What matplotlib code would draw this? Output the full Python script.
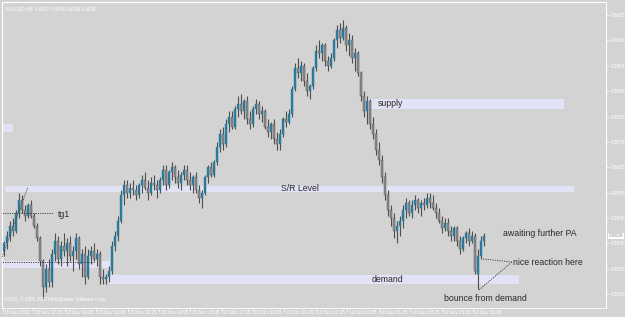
import matplotlib
matplotlib.use("Agg")
import matplotlib.pyplot as plt
from matplotlib.patches import Rectangle
import numpy as np

# ---- data (prices in 1/10000 units, AUDUSD M5) ----
opens = [9832, 9835, 9838, 9842, 9840, 9847, 9852, 9848, 9846, 9850,
         9846, 9842, 9837, 9828, 9818, 9825, 9820, 9831, 9836, 9829,
         9834, 9832, 9835, 9830, 9832, 9837, 9827, 9831, 9822, 9830,
         9832, 9829, 9831, 9822, 9821, 9822, 9824, 9834, 9838, 9844,
         9854, 9858, 9855, 9857, 9856, 9854, 9858, 9860, 9857, 9855,
         9859, 9858, 9856, 9860, 9864, 9858, 9863, 9865, 9861, 9859,
         9862, 9864, 9860, 9858, 9861, 9856, 9853, 9855, 9861, 9865,
         9862, 9867, 9873, 9878, 9874, 9882, 9885, 9881, 9888, 9890,
         9887, 9891, 9884, 9882, 9888, 9890, 9886, 9887, 9881, 9879,
         9882, 9876, 9874, 9878, 9884, 9883, 9886, 9896, 9904, 9902,
         9905, 9899, 9895, 9897, 9904, 9911, 9910, 9913, 9907, 9905,
         9908, 9915, 9919, 9916, 9920, 9913, 9915, 9908, 9910, 9902,
         9893, 9887, 9891, 9882, 9878, 9872, 9868, 9861, 9854, 9848,
         9845, 9840, 9842, 9844, 9848, 9851, 9847, 9850, 9852, 9849,
         9851, 9850, 9853, 9851, 9849, 9847, 9844, 9841, 9843, 9840,
         9838, 9841, 9836, 9833, 9837, 9839, 9836, 9838, 9823, 9830,
         9836]
highs = [9836, 9840, 9844, 9845, 9848, 9855, 9854, 9850, 9851, 9852,
         9847, 9843, 9838, 9829, 9827, 9829, 9833, 9839, 9838, 9836,
         9839, 9837, 9838, 9834, 9839, 9838, 9833, 9834, 9833, 9834,
         9835, 9833, 9832, 9825, 9823, 9826, 9836, 9840, 9846, 9856,
         9860, 9860, 9859, 9860, 9858, 9859, 9862, 9863, 9860, 9861,
         9862, 9860, 9861, 9866, 9866, 9864, 9867, 9866, 9864, 9863,
         9866, 9866, 9863, 9862, 9863, 9858, 9856, 9862, 9866, 9867,
         9868, 9875, 9880, 9881, 9884, 9887, 9887, 9889, 9893, 9894,
         9892, 9893, 9887, 9889, 9892, 9891, 9889, 9888, 9884, 9883,
         9884, 9879, 9880, 9885, 9887, 9888, 9897, 9906, 9908, 9907,
         9906, 9902, 9898, 9905, 9913, 9915, 9914, 9914, 9909, 9910,
         9916, 9921, 9922, 9923, 9921, 9918, 9917, 9912, 9911, 9903,
         9895, 9893, 9892, 9885, 9880, 9875, 9870, 9863, 9856, 9850,
         9847, 9844, 9846, 9850, 9853, 9852, 9852, 9854, 9853, 9852,
         9853, 9855, 9855, 9854, 9851, 9849, 9846, 9845, 9845, 9842,
         9842, 9842, 9838, 9838, 9840, 9841, 9840, 9839, 9833, 9838,
         9839]
lows = [9830, 9833, 9836, 9838, 9839, 9845, 9847, 9844, 9845, 9845,
        9841, 9836, 9826, 9813, 9816, 9818, 9818, 9828, 9827, 9826,
        9830, 9826, 9828, 9824, 9829, 9825, 9822, 9819, 9821, 9827,
        9828, 9826, 9819, 9819, 9819, 9820, 9823, 9832, 9836, 9843,
        9850, 9853, 9853, 9854, 9852, 9853, 9855, 9856, 9852, 9854,
        9856, 9853, 9855, 9858, 9856, 9857, 9860, 9859, 9857, 9856,
        9860, 9858, 9856, 9855, 9855, 9851, 9849, 9854, 9859, 9861,
        9861, 9866, 9871, 9872, 9873, 9879, 9880, 9880, 9885, 9886,
        9884, 9882, 9880, 9881, 9886, 9884, 9883, 9880, 9877, 9876,
        9874, 9872, 9872, 9877, 9881, 9882, 9885, 9895, 9900, 9899,
        9897, 9893, 9892, 9896, 9903, 9908, 9907, 9905, 9903, 9904,
        9907, 9912, 9914, 9915, 9911, 9909, 9906, 9903, 9901, 9891,
        9885, 9882, 9880, 9876, 9870, 9866, 9859, 9852, 9846, 9842,
        9837, 9835, 9838, 9841, 9845, 9846, 9845, 9848, 9847, 9846,
        9848, 9849, 9849, 9848, 9845, 9843, 9839, 9840, 9838, 9836,
        9836, 9834, 9831, 9832, 9835, 9834, 9835, 9823, 9817, 9829,
        9834]
closes = [9835, 9838, 9842, 9840, 9847, 9852, 9848, 9846, 9850, 9846,
          9842, 9837, 9828, 9818, 9825, 9820, 9831, 9836, 9829, 9834,
          9832, 9835, 9830, 9832, 9837, 9827, 9831, 9822, 9830, 9832,
          9829, 9831, 9822, 9821, 9822, 9824, 9834, 9838, 9844, 9854,
          9858, 9855, 9857, 9856, 9854, 9858, 9860, 9857, 9855, 9859,
          9858, 9856, 9860, 9864, 9858, 9863, 9865, 9861, 9859, 9862,
          9864, 9860, 9858, 9861, 9856, 9853, 9855, 9861, 9865, 9862,
          9867, 9873, 9878, 9874, 9882, 9885, 9881, 9888, 9890, 9887,
          9891, 9884, 9882, 9888, 9890, 9886, 9887, 9881, 9879, 9882,
          9876, 9874, 9878, 9884, 9883, 9886, 9896, 9904, 9902, 9905,
          9899, 9895, 9897, 9904, 9911, 9910, 9913, 9907, 9905, 9908,
          9915, 9919, 9916, 9920, 9913, 9915, 9908, 9910, 9902, 9893,
          9887, 9891, 9882, 9878, 9872, 9868, 9861, 9854, 9848, 9845,
          9840, 9842, 9844, 9848, 9851, 9847, 9850, 9852, 9849, 9851,
          9850, 9853, 9851, 9849, 9847, 9844, 9841, 9843, 9840, 9838,
          9841, 9836, 9833, 9837, 9839, 9836, 9838, 9824, 9830, 9836,
          9838]

price_ticks = [0.9925, 0.9915, 0.9905, 0.9895, 0.9885, 0.9875,
               0.9865, 0.9855, 0.9845, 0.9835, 0.9825, 0.9815]
time_labels = ["15 Nov 2010", "15 Nov 07:25", "15 Nov 09:05", "15 Nov 10:45",
               "15 Nov 12:25", "15 Nov 14:05", "15 Nov 15:45", "15 Nov 17:25",
               "15 Nov 19:05", "15 Nov 20:45", "15 Nov 22:25", "16 Nov 00:05",
               "16 Nov 01:45", "16 Nov 03:25", "16 Nov 05:05", "16 Nov 06:45"]
time_label_pos = [-0.5, 9.8, 20.2, 30.7, 41.2, 51.7, 62.1, 72.6,
                  83.0, 93.5, 104.0, 114.5, 125.0, 135.4, 145.9, 156.3]

PIP = 1e-4
o = np.array(opens) * PIP
h = np.array(highs) * PIP
l = np.array(lows) * PIP
c = np.array(closes) * PIP
x = np.arange(len(o))

BG = "#D3D3D3"
BULL = "#2A7A9E"
BEAR = "#8E8E8E"
WICK = "#4E4E4E"
ZONE = "#E3E3F8"
TXT = "#2A2A2A"
SMALL = dict(family="Liberation Sans", fontsize=3.3, color="white")

fig = plt.figure(figsize=(6.25, 3.17), dpi=100, facecolor=BG)
ax = fig.add_axes([2 / 625, 9 / 317, 604 / 625, 306 / 317], facecolor=BG)
ax.set_xlim(-0.667, 200.67)
ax.set_ylim(0.98096, 0.99301)

# zones
zones = [(121.3, 186.7, 0.9888, 0.9892),
         (0.33, 190.0, 0.98553, 0.98577),
         (34.7, 171.7, 0.98191, 0.98226),
         (-1.33, 3.0, 0.9879, 0.9882),
         (-1.33, 35.3, 0.98255, 0.9828)]
for x0, x1, y0, y1 in zones:
    ax.add_patch(Rectangle((x0, y0), x1 - x0, y1 - y0, facecolor=ZONE,
                           edgecolor="none", zorder=1))

# candles
ax.vlines(x, l, h, color=WICK, lw=0.8, zorder=2)
up = c >= o
body_lo = np.minimum(o, c)
body_h = np.maximum(np.abs(c - o), 0.4 * PIP)
ax.bar(x[up], body_h[up], bottom=body_lo[up], width=0.62, color=BULL,
       edgecolor=BULL, lw=0.3, zorder=3)
ax.bar(x[~up], body_h[~up], bottom=body_lo[~up], width=0.62, color=BEAR,
       edgecolor=WICK, lw=0.3, zorder=3)

# dotted lines
ls = dict(color="#404040", lw=0.7, ls=(0, (1.2, 1.2)), zorder=4)
ax.plot([-1.33, 16.3], [0.98472, 0.98472], **ls)
ax.plot([-1.33, 30.3], [0.98278, 0.98278], **ls)
ax.plot([-0.67, 8.0], [0.98297, 0.98573], **ls)
ax.plot([159.7, 169.3], [0.98289, 0.98277], **ls)
ax.plot([158.3, 169.3], [0.98167, 0.98277], **ls)

# annotations
tf = dict(family="Liberation Sans", fontsize=6.3, color=TXT, zorder=5)
ax.text(18.0, 0.98465, "tg1", va="center", ha="left", **tf)
ax.text(124.7, 0.9890, "supply", va="center", ha="left", **tf)
ax.text(98.7, 0.98565, "S/R Level", va="center", ha="center", **tf)
ax.text(122.7, 0.98209, "demand", va="center", ha="left", **tf)
ax.text(166.3, 0.9839, "awaiting further PA", va="center", ha="left", **tf)
ax.text(169.6, 0.98277, "nice reaction here", va="center", ha="left", **tf)
ax.text(146.7, 0.98132, "bounce from demand", va="center", ha="left", **tf)

# frame
for s in ax.spines.values():
    s.set_color("white")
    s.set_linewidth(0.8)
ax.spines["bottom"].set_linewidth(0.6)

# price axis on the right
ax.yaxis.tick_right()
ax.set_yticks(price_ticks)
ax.set_yticklabels([f"{v:.4f}" for v in price_ticks],
                   family="Liberation Sans")
ax.tick_params(axis="y", direction="out", length=2, width=0.6, colors="white",
               labelsize=3.4, pad=1.2)

# time axis
ax.set_xticks([])
for pos, lab in zip(time_label_pos, time_labels):
    ax.plot([pos, pos], [0.98096, 0.98082], color="white", lw=0.5,
            clip_on=False, zorder=6)
    ax.text(pos + 0.5, 0.98077, lab, ha="left", va="center", clip_on=False,
            **SMALL)

# current price marker
last = closes[-1] * PIP
ax.text(1.004, last, f"{last:.4f}", transform=ax.get_yaxis_transform(),
        family="Liberation Sans", fontsize=3.4, color="#909090", ha="left",
        va="center", bbox=dict(boxstyle="square,pad=0.15", fc="white",
                               ec="none"))

# header and copyright
ax.text(0.005, 0.985, "AUDUSD,M5  0.9837 0.9838 0.9836 0.9838",
        transform=ax.transAxes, ha="left", va="top", **SMALL)
ax.text(0.005, 0.02, "FXDD, \u00a9 2001-2009 MetaQuotes Software Corp.",
        transform=ax.transAxes, ha="left", va="bottom", **SMALL)

fig.savefig("out.png", dpi=100, facecolor=BG)
